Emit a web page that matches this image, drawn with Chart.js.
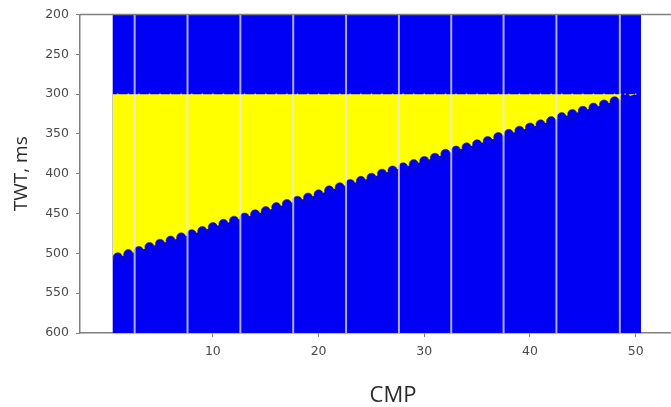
<!DOCTYPE html>
<html>
<head>
<meta charset="utf-8">
<script src="https://cdn.jsdelivr.net/npm/chart.js@4.4.1/dist/chart.umd.min.js"></script>
<style>
  html, body { margin: 0; padding: 0; background: #ffffff; overflow: hidden; }
  #wrap { width: 671px; height: 407px; overflow: hidden; position: relative; }
  canvas { display: block; }
</style>
</head>
<body>
<div id="wrap"><canvas id="c" width="740" height="407"></canvas></div>
<script>
// ---- data ----
const cmp = [1,2,3,4,5,6,7,8,9,10,11,12,13,14,15,16,17,18,19,20,21,22,23,24,25,
             26,27,28,29,30,31,32,33,34,35,36,37,38,39,40,41,42,43,44,45,46,47,48,49,50];
// lower boundary of the yellow zone (TWT, ms) for each CMP
const baseTwt = [505,501,497,492,488,484,480,476,472,467,463,459,455,451,447,442,438,434,430,426,
                 421,417,413,409,405,400,396,392,388,384,380,375,371,367,363,359,354,350,346,342,
                 338,334,329,325,321,317,313,309,304,300];
const topTwt = 300;                 // upper boundary of the yellow zone
const yellowStart = { cmp: 0.5, twt: 507 };
const panelCmp = [0.5, 50.5];       // extent of the blue section
const panelTwt = [200, 600];
const gapCmp = [2.6, 7.6, 12.6, 17.6, 22.6, 27.6, 32.55, 37.5, 42.5, 48.5]; // white trace gaps
const xTicks = [10, 20, 30, 40, 50];
const yTicks = [200, 250, 300, 350, 400, 450, 500, 550, 600];

// ---- build datasets ----
const BLUE = '#0000f5';
const YELLOW = '#ffff00';

const datasets = [];

datasets.push({
  data: [{x: panelCmp[0], y: panelTwt[1]}, {x: panelCmp[1], y: panelTwt[1]}],
  borderWidth: 0, pointRadius: 0, backgroundColor: BLUE,
  fill: {value: panelTwt[0]}, order: 10
});

const yellowData = [{x: yellowStart.cmp, y: yellowStart.twt}]
  .concat(cmp.map((c, i) => ({x: c, y: baseTwt[i]})));
datasets.push({
  data: yellowData,
  borderWidth: 0, pointRadius: 0, backgroundColor: YELLOW,
  fill: {value: topTwt}, order: 9
});

datasets.push({
  data: cmp.slice(0, 49).map((c, i) => ({x: c, y: baseTwt[i]})),
  showLine: false, pointRadius: 4.6, pointBackgroundColor: BLUE,
  pointBorderColor: 'rgba(30,30,110,0.55)', pointBorderWidth: 1, order: 8
});

datasets.push({
  data: cmp.slice(0, 50).map(c => ({x: c, y: topTwt})),
  showLine: false, pointRadius: 0.9, pointBackgroundColor: 'rgba(255,255,255,0.55)',
  pointBorderWidth: 0, order: 7
});

gapCmp.forEach(g => {
  datasets.push({
    data: [{x: g, y: panelTwt[0]}, {x: g, y: panelTwt[1]}],
    borderColor: 'rgba(230,230,255,0.75)', borderWidth: 2, pointRadius: 0,
    fill: false, order: 1
  });
});

const spinePlugin = {
  id: 'topSpine',
  afterDraw(chart) {
    const {ctx, chartArea} = chart;
    ctx.save();
    ctx.strokeStyle = '#808080';
    ctx.lineWidth = 1.5;
    ctx.beginPath();
    ctx.moveTo(chartArea.left, chartArea.top);
    ctx.lineTo(chartArea.right, chartArea.top);
    ctx.stroke();
    ctx.restore();
  }
};

new Chart(document.getElementById('c'), {
  type: 'line',
  data: { datasets },
  plugins: [spinePlugin],
  options: {
    responsive: false,
    animation: false,
    devicePixelRatio: 1,
    layout: { padding: { top: 14, right: 34, bottom: 0, left: 0 } },
    plugins: { legend: { display: false }, tooltip: { enabled: false } },
    scales: {
      x: {
        type: 'linear',
        min: -2.57, max: 56.65,
        afterBuildTicks: s => { s.ticks = xTicks.map(v => ({value: v})); },
        afterFit: s => { s.height = 74; },
        grid: { display: true, drawOnChartArea: false, drawTicks: true, tickLength: 4, color: '#808080', lineWidth: 1 },
        border: { display: true, color: '#808080', width: 1.5 },
        ticks: { color: '#4a4a4a', font: { family: 'DejaVu Sans', size: 12.5 }, padding: 7, maxRotation: 0 },
        title: { display: true, text: 'CMP', color: '#2a2a2a',
                 font: { family: 'Open Sans', size: 22, lineHeight: 1 }, padding: { top: 0, bottom: 0 } }
      },
      y: {
        type: 'linear',
        reverse: true,
        min: 200, max: 600,
        afterBuildTicks: s => { s.ticks = yTicks.map(v => ({value: v})); },
        afterFit: s => { s.width = 80; },
        grid: { display: true, drawOnChartArea: false, drawTicks: true, tickLength: 4, color: '#808080', lineWidth: 1 },
        border: { display: true, color: '#808080', width: 1.5 },
        ticks: { color: '#4a4a4a', font: { family: 'DejaVu Sans', size: 12.5 }, padding: 7 },
        title: { display: true, text: 'TWT, ms', color: '#2a2a2a',
                 font: { family: 'Open Sans', size: 19, lineHeight: 1 }, padding: { top: 12, bottom: 0 } }
      }
    }
  }
});
</script>
</body>
</html>
